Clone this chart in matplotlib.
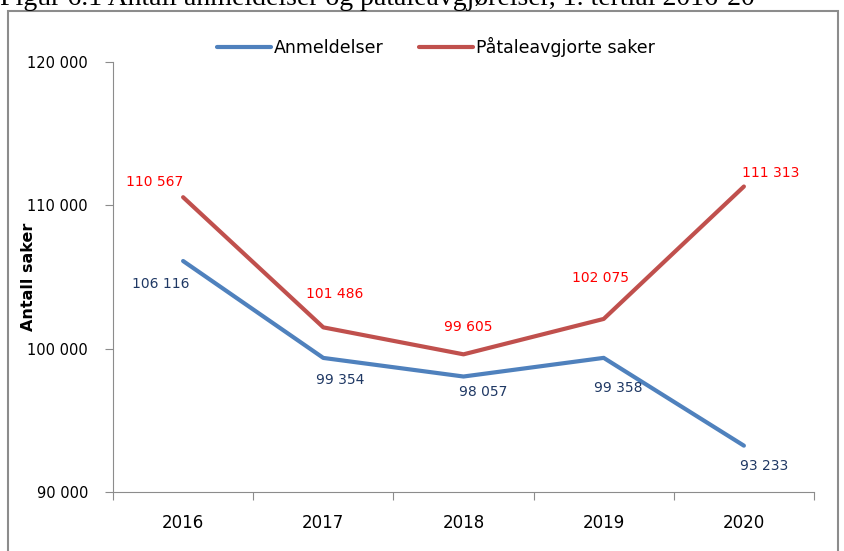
import matplotlib.pyplot as plt
from matplotlib.patches import Rectangle

years = ['2016', '2017', '2018', '2019', '2020']
anmeldelser = [106116, 99354, 98057, 99358, 93233]
paatale = [110567, 101486, 99605, 102075, 111313]
yticks = [90000, 100000, 110000, 120000]
ytick_labels = ['90 000', '100 000', '110 000', '120 000']


def fmt(v):
    return f'{v:,}'.replace(',', ' ')


def main():
    plt.rcParams['font.family'] = ['DejaVu Sans']
    W, H = 845, 551
    fig = plt.figure(figsize=(W / 100, H / 100), dpi=100)

    # cut-off document caption at the very top
    fig.text(0 / W, 1 - 5 / H, 'Figur 6.1 Antall anmeldelser og påtaleavgjørelser, 1. tertial 2016-20',
             family='Liberation Serif', fontsize=20, va='baseline', ha='left', color='black')

    # outer chart frame
    fig.patches.append(Rectangle((8 / W, -0.05), (838 - 8) / W, 1.05 - 11 / H,
                                 transform=fig.transFigure, fill=False,
                                 edgecolor='#8c8c8c', lw=1.5))

    ax = fig.add_axes([113 / W, 1 - 492 / H, (814 - 113) / W, (492 - 62) / H])
    x = range(len(years))
    l1, = ax.plot(x, anmeldelser, color='#4F81BD', lw=3, solid_capstyle='round')
    l2, = ax.plot(x, paatale, color='#C0504D', lw=3, solid_capstyle='round')

    ax.set_xlim(-0.5, 4.5)
    ax.set_ylim(90000, 120000)
    ax.set_yticks(yticks)
    ax.set_yticklabels(ytick_labels, fontsize=10.5)
    ax.set_xticks([i + 0.5 for i in range(-1, 5)])
    ax.set_xticklabels([])
    ax.set_xticks(list(x), minor=True)
    ax.set_xticklabels(years, minor=True, fontsize=12)
    ax.tick_params(axis='x', which='minor', length=0, pad=16)
    ax.tick_params(axis='x', which='major', length=6, color='#8c8c8c', direction='out')
    ax.tick_params(axis='y', length=6, color='#8c8c8c', direction='out', pad=12)

    for s in ['top', 'right']:
        ax.spines[s].set_visible(False)
    for s in ['left', 'bottom']:
        ax.spines[s].set_color('#8c8c8c')

    ax.set_ylabel('Antall saker', fontsize=11.5, fontweight='bold')
    ax.yaxis.set_label_coords(-0.11, 0.5)

    # data labels (pixel offsets from the points)
    blue_off = [(-22, -23), (17, -22), (20, -15), (15, -30), (20, -20)]
    red_off = [(-28, 15), (11, 33), (5, 27), (-3, 41), (27, 14)]
    for i in x:
        ax.annotate(fmt(anmeldelser[i]), (i, anmeldelser[i]), xytext=blue_off[i],
                    textcoords='offset pixels', ha='center', va='center',
                    color='#1F3864', fontsize=10)
        ax.annotate(fmt(paatale[i]), (i, paatale[i]), xytext=red_off[i],
                    textcoords='offset pixels', ha='center', va='center',
                    color='#FF0000', fontsize=10)

    fig.legend([l1, l2], ['Anmeldelser', 'Påtaleavgjorte saker'], loc='center left',
               bbox_to_anchor=(217 / W, 1 - 47 / H), ncol=2, frameon=False,
               fontsize=12.5, handlelength=3.1, columnspacing=2.0, handletextpad=0.2,
               borderpad=0, borderaxespad=0)

    fig.savefig('out.png', dpi=100)


if __name__ == "__main__":
    main()
